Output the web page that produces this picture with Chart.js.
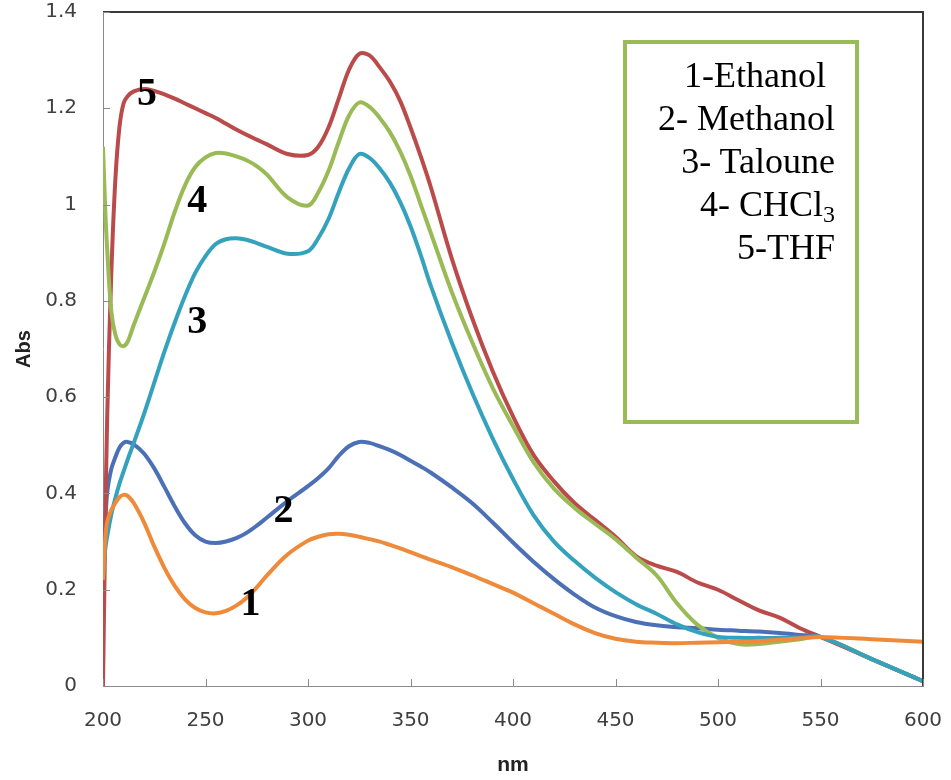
<!DOCTYPE html>
<html>
<head>
<meta charset="utf-8">
<script src="https://cdn.jsdelivr.net/npm/chart.js@4.4.1/dist/chart.umd.min.js"></script>
<style>
  body { margin: 0; background: #fff; }
  #wrap { position: relative; width: 951px; height: 780px; }
  #legendBox {
    position: absolute; left: 623px; top: 40px; width: 236px; height: 384px;
    box-sizing: border-box; border: 4px solid #9bbb59;
    padding: 10px 20px 0 0; text-align: right;
    font-family: "Liberation Serif", "Times New Roman", serif; font-size: 36px; line-height: 43px; color: #000;
  }
  #legendBox sub { font-size: 24px; line-height: 0; vertical-align: -6px; }
</style>
</head>
<body>
<div id="wrap">
  <canvas id="chart" width="951" height="780"></canvas>
  <div id="legendBox">
    1-Ethanol&nbsp;<br>
    2- Methanol<br>
    3- Taloune<br>
    4- CHCl<sub>3</sub><br>
    5-THF
  </div>
</div>
<script>
// wavelength grid (nm)
const wavelengths = [200,201,202,204,206,208,210,212,215,220, 225,230,235,240,245,250,255,260,265,270,
  275,280,290,300,305,310,315,320,325,330, 335,340,345,350,355,360,370,380,390,400,
  410,420,430,440,450,460,470,480,490,500, 510,520,530,540,550,575,600];

// absorbance per solvent
const ethanol = [0.22,0.30,0.34,0.365,0.38,0.392,0.397,0.395,0.38,0.34, 0.29,0.245,0.208,0.18,0.162,0.153,0.151,0.156,0.167,0.183,
  0.205,0.23,0.273,0.302,0.31,0.315,0.316,0.314,0.31,0.305, 0.30,0.293,0.286,0.278,0.27,0.262,0.247,0.23,0.212,0.194,
  0.172,0.15,0.128,0.11,0.098,0.092,0.09,0.089,0.09,0.091, 0.092,0.093,0.096,0.099,0.102,0.097,0.092];
const methanol = [0.18,0.32,0.40,0.45,0.475,0.495,0.505,0.507,0.502,0.483, 0.452,0.413,0.373,0.338,0.313,0.3,0.297,0.30,0.307,0.318,
  0.333,0.35,0.384,0.415,0.432,0.452,0.478,0.498,0.507,0.505, 0.498,0.49,0.48,0.468,0.456,0.443,0.413,0.38,0.34,0.298,
  0.258,0.222,0.19,0.163,0.145,0.133,0.126,0.122,0.12,0.117, 0.115,0.113,0.11,0.106,0.102,0.056,0.01];
const taloune = [0.22,0.28,0.31,0.355,0.39,0.42,0.445,0.47,0.505,0.565, 0.63,0.695,0.755,0.81,0.858,0.893,0.918,0.928,0.93,0.927,
  0.92,0.912,0.898,0.903,0.93,0.97,1.025,1.075,1.105,1.097, 1.075,1.045,1.005,0.955,0.895,0.83,0.715,0.61,0.515,0.43,
  0.355,0.30,0.26,0.225,0.195,0.17,0.15,0.128,0.112,0.102, 0.10,0.10,0.10,0.101,0.102,0.056,0.01];
const chcl3 = [1.12,1.00,0.91,0.78,0.73,0.71,0.706,0.715,0.75,0.805, 0.86,0.92,0.985,1.04,1.078,1.098,1.107,1.106,1.10,1.092,
  1.08,1.062,1.015,0.998,1.025,1.07,1.13,1.185,1.212,1.203, 1.18,1.15,1.11,1.06,1.0,0.94,0.82,0.715,0.62,0.54,
  0.465,0.41,0.37,0.337,0.305,0.267,0.23,0.172,0.127,0.10, 0.087,0.087,0.092,0.097,0.102,0.056,0.01];
const thf = [0.00,0.30,0.55,0.85,1.05,1.16,1.21,1.225,1.235,1.24, 1.236,1.229,1.22,1.21,1.2,1.19,1.18,1.168,1.156,1.145,
  1.135,1.125,1.105,1.103,1.12,1.16,1.22,1.28,1.313,1.31, 1.285,1.255,1.215,1.16,1.10,1.035,0.89,0.765,0.655,0.56,
  0.48,0.425,0.38,0.345,0.31,0.27,0.25,0.237,0.215,0.20, 0.178,0.157,0.142,0.12,0.102,0.056,0.01];

// curve number labels (data coordinates)
const curveLabels = ['1', '2', '3', '4', '5'];
const labelX = [272, 288, 246, 246, 221.5];
const labelY = [0.176, 0.37, 0.762, 1.013, 1.235];

const xTicks = [200, 250, 300, 350, 400, 450, 500, 550, 600];

const toPoints = vals => vals.map((v, i) => ({ x: wavelengths[i], y: v }));

const series = [
  { label: 'Ethanol', data: ethanol, color: '#ee8a3a', order: 0 },
  { label: 'Methanol', data: methanol, color: '#4c70b6', order: 4 },
  { label: 'Taloune', data: taloune, color: '#35a2bd', order: 1 },
  { label: 'CHCl3', data: chcl3, color: '#99ba55', order: 2 },
  { label: 'THF', data: thf, color: '#bb4b4b', order: 3 }
];

// frame on top/right, inward ticks, curve numbers
const decorPlugin = {
  id: 'decor',
  afterDatasetsDraw(chart) {
    const { ctx, chartArea: a, scales } = chart;
    ctx.save();
    ctx.strokeStyle = '#3a3a3a';
    ctx.lineWidth = 2;
    ctx.beginPath();
    ctx.moveTo(a.left, a.top); ctx.lineTo(a.right, a.top); ctx.lineTo(a.right, a.bottom);
    ctx.stroke();

    ctx.strokeStyle = '#8a8a8a';
    ctx.lineWidth = 1;
    ctx.beginPath();
    xTicks.forEach(v => {
      const px = Math.round(scales.x.getPixelForValue(v)) + 0.5;
      ctx.moveTo(px, a.bottom); ctx.lineTo(px, a.bottom - 7);
    });
    scales.y.ticks.forEach(t => {
      const py = Math.round(scales.y.getPixelForValue(t.value)) + 0.5;
      ctx.moveTo(a.left, py); ctx.lineTo(a.left + 7, py);
    });
    ctx.stroke();

    ctx.fillStyle = '#000';
    ctx.font = 'bold 40px "Liberation Serif", "Times New Roman", serif';
    ctx.textAlign = 'center';
    ctx.textBaseline = 'alphabetic';
    curveLabels.forEach((txt, i) => {
      const px = scales.x.getPixelForValue(labelX[i]);
      const py = scales.y.getPixelForValue(labelY[i]);
      ctx.fillText(txt, px, py + 14);
    });
    ctx.restore();
  }
};

new Chart(document.getElementById('chart'), {
  type: 'line',
  data: {
    datasets: series.map(s => ({
      label: s.label,
      data: toPoints(s.data),
      borderColor: s.color,
      borderWidth: 4,
      pointRadius: 0,
      fill: false,
      tension: 0.35,
      order: s.order
    }))
  },
  options: {
    responsive: false,
    animation: false,
    layout: { padding: { top: 12, right: 28, left: 0, bottom: 0 } },
    plugins: { legend: { display: false }, tooltip: { enabled: false } },
    scales: {
      x: {
        type: 'linear', min: 200, max: 600,
        afterBuildTicks: scale => { scale.ticks = xTicks.map(v => ({ value: v })); },
        afterFit: scale => { scale.height = 94; scale.paddingLeft = 0; scale.paddingRight = 0; },
        grid: { display: false, drawTicks: false, tickLength: 0 },
        border: { color: '#8a8a8a', width: 1 },
        ticks: { color: '#404040', font: { family: 'DejaVu Sans', size: 20 }, padding: 23, maxRotation: 0 },
        title: { display: true, text: 'nm', color: '#222', font: { family: 'Liberation Sans', size: 21, weight: 'bold' }, padding: { top: 0, bottom: 2 } }
      },
      y: {
        min: 0, max: 1.4,
        afterFit: scale => { scale.width = 103; scale.paddingTop = 0; scale.paddingBottom = 0; },
        grid: { display: false, drawTicks: false, tickLength: 0 },
        border: { color: '#8a8a8a', width: 1 },
        ticks: {
          stepSize: 0.2, color: '#404040', font: { family: 'DejaVu Sans', size: 20 }, padding: 26,
          callback: v => String(Math.round(v * 10) / 10)
        },
        title: { display: true, text: 'Abs', color: '#222', font: { family: 'Liberation Sans', size: 20, weight: 'bold' }, padding: { top: 12, bottom: 0 } }
      }
    }
  },
  plugins: [decorPlugin]
});
</script>
</body>
</html>
